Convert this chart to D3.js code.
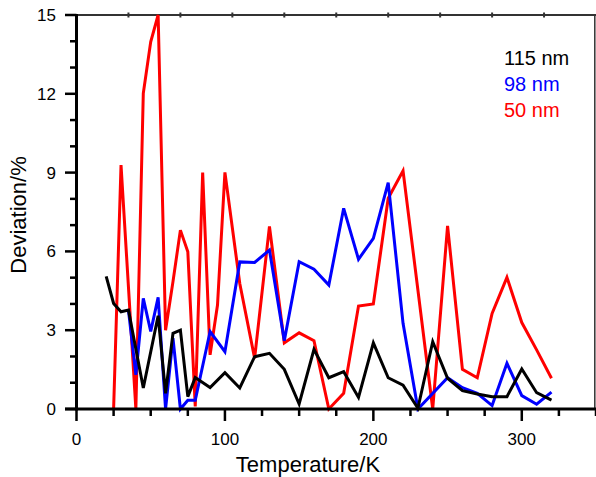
<!DOCTYPE html>
<html><head><meta charset="utf-8">
<script src="https://cdn.jsdelivr.net/npm/d3@7"></script>
<style>
html,body{margin:0;padding:0;background:#fff;}
svg{display:block;font-family:"Liberation Sans",Arial,Helvetica,sans-serif;}
</style></head>
<body><svg id="c" width="596" height="477"></svg>
<script>
// ---- data ----
const blackT = [20,25,30,35,45,55,60,65,70,75,80,90,100,110,120,130,140,150,160,170,180,190,200,210,220,230,240,250,260,270,280,290,300,310,320];
const blackV = [5.05,4.02,3.7,3.77,0.8,3.55,0.6,2.88,3.0,0.47,1.2,0.82,1.38,0.8,1.99,2.12,1.51,0.19,2.27,1.19,1.42,0.44,2.52,1.19,0.91,0.03,2.56,1.17,0.7,0.57,0.47,0.47,1.52,0.62,0.34];
const blueT = [35,40,45,50,55,60,65,70,75,80,90,100,110,120,130,140,150,160,170,180,190,200,210,220,230,250,260,270,280,290,300,310,320];
const blueV = [3.77,1.3,4.21,2.95,4.25,0,2.7,0,0.33,0.33,2.95,2.18,5.6,5.58,6.05,2.6,5.61,5.32,4.72,7.64,5.7,6.5,8.62,3.26,0,1.19,0.81,0.6,0.13,1.74,0.51,0.18,0.64];
const redT = [25,30,40,45,50,55,60,65,70,75,80,85,90,95,100,110,120,130,140,150,160,170,180,190,200,210,220,240,250,260,270,280,290,300,310,320];
const redV = [0,9.29,0,12.02,13.98,15,3.0,4.85,6.81,5.99,0.1,9.0,2.06,3.96,9.01,4.78,1.93,6.95,2.52,2.9,2.6,0,0.6,3.92,4.0,8.02,9.07,0,6.97,1.51,1.19,3.64,5.01,3.29,2.25,1.17];
const seriesNames = ["115 nm","98 nm","50 nm"];
const seriesColors = ["#000000","#0000ff","#ff0000"];
const xTicks = [0,100,200,300];
const yTicks = [0,3,6,9,12,15];
const xLabel = "Temperature/K";
const yLabel = "Deviation/%";

const svg = d3.select("#c");
const x = d3.scaleLinear().domain([0,350]).range([76.5,596]);
const y = d3.scaleLinear().domain([0,15]).range([409,15]);

// top & right frame
svg.append("line").attr("x1",x(0)).attr("x2",596).attr("y1",y(15)).attr("y2",y(15))
  .attr("stroke","#333").attr("stroke-width",2);
svg.append("line").attr("x1",594.8).attr("x2",594.8).attr("y1",y(15)).attr("y2",y(0))
  .attr("stroke","#333").attr("stroke-width",1.5);
// small top ticks at 10 even divisions
const topTicks = d3.range(1,10).map(i=>i*35);
svg.selectAll(".tt").data(topTicks).join("line")
  .attr("x1",d=>x(d)).attr("x2",d=>x(d)).attr("y1",y(15)-2.5).attr("y2",y(15)+2.5)
  .attr("stroke","#333").attr("stroke-width",2);

// series
const line = d3.line().x(d=>x(d[0])).y(d=>y(d[1]));
const all = [[blackT,blackV],[blueT,blueV],[redT,redV]];
const order = [2,1,0];
order.forEach(i=>{
  const pts = all[i][0].map((t,j)=>[t,all[i][1][j]]);
  svg.append("path").attr("d",line(pts)).attr("fill","none")
    .attr("stroke",seriesColors[i]).attr("stroke-width",3)
    .attr("stroke-linejoin","miter").attr("stroke-miterlimit",4);
});

// bottom axis
const gx = svg.append("g").attr("transform",`translate(0,${y(0)})`);
gx.append("line").attr("x1",65).attr("x2",596).attr("y1",0).attr("y2",0)
  .attr("stroke","#000").attr("stroke-width",3);
gx.selectAll(".xt").data(d3.range(0,351,25)).join("line")
  .attr("x1",d=>x(d)).attr("x2",d=>x(d)).attr("y1",0)
  .attr("y2",d=>d%100===0?12:7).attr("stroke","#000").attr("stroke-width",2.5);
gx.selectAll(".xl").data(xTicks).join("text")
  .attr("x",d=>x(d)).attr("y",36).attr("text-anchor","middle")
  .attr("font-size",17).attr("fill","#000").text(d=>d);

// left axis
const gy = svg.append("g");
gy.append("line").attr("x1",x(0)).attr("x2",x(0)).attr("y1",y(15)-1).attr("y2",y(0)+1.5)
  .attr("stroke","#000").attr("stroke-width",3);
gy.selectAll(".yt").data(d3.range(0,16,1)).join("line")
  .attr("x1",x(0)).attr("x2",d=>d%3===0?65:70).attr("y1",d=>y(d)).attr("y2",d=>y(d))
  .attr("stroke","#000").attr("stroke-width",2.5);
gy.selectAll(".yl").data(yTicks).join("text")
  .attr("x",56).attr("y",d=>y(d)+6).attr("text-anchor","end")
  .attr("font-size",17).attr("fill","#000").text(d=>d);

// axis titles
svg.append("text").attr("x",308).attr("y",472).attr("text-anchor","middle")
  .attr("font-size",22).attr("fill","#000").text(xLabel);
svg.append("text").attr("transform","translate(26,215) rotate(-90)").attr("text-anchor","middle")
  .attr("font-size",22).attr("fill","#000").text(yLabel);

// legend
svg.selectAll(".lg").data(seriesNames).join("text")
  .attr("x",504).attr("y",(d,i)=>65+i*26).attr("font-size",20)
  .attr("fill",(d,i)=>seriesColors[i]).text(d=>d);
</script></body></html>
